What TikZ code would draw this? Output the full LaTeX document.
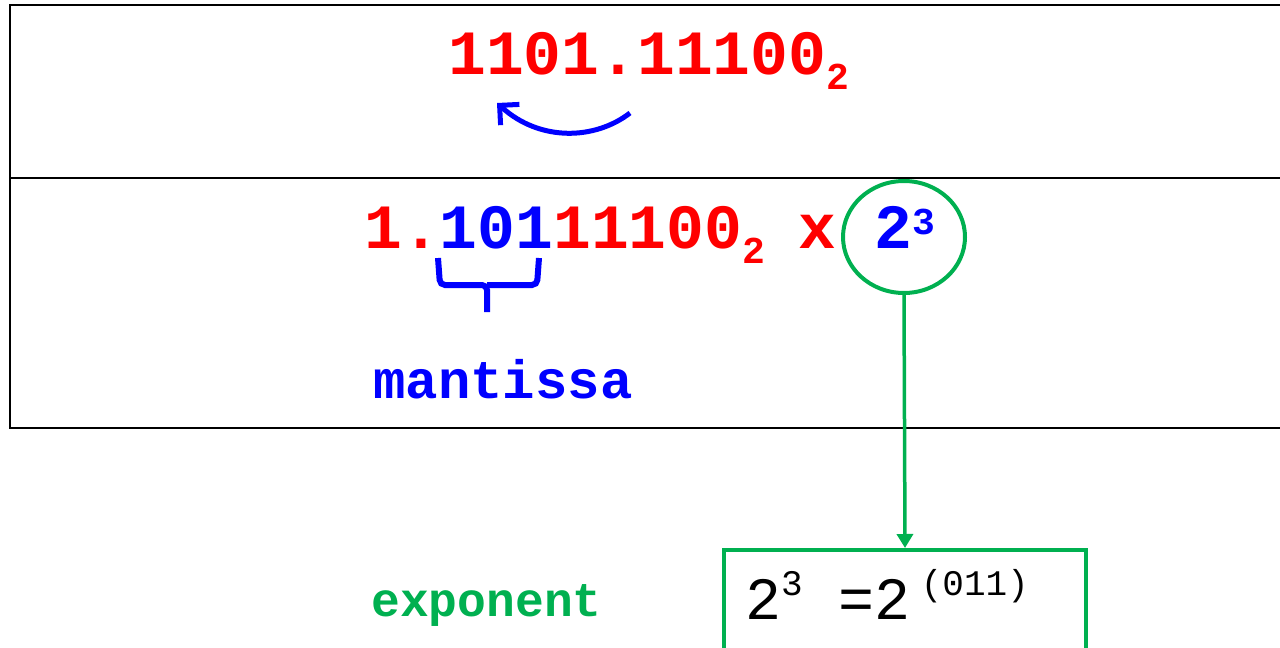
\documentclass[tikz,border=0pt]{standalone}
\usepackage{fontspec}
\newfontfamily\cour{Liberation Mono}
\usetikzlibrary{arrows.meta,shapes.geometric}
\definecolor{ogreen}{HTML}{00B050}
\definecolor{ored}{HTML}{FF0000}
\definecolor{oblue}{HTML}{0000FF}
\newcommand{\fs}[1]{\fontsize{#1}{#1}\selectfont}
\newcommand{\mysub}[1]{\raisebox{-15pt}{\fs{38}#1}}
\newcommand{\mysup}[1]{\raisebox{14pt}{\fs{38}#1}}
\newcommand{\eqsup}[1]{\raisebox{24pt}{\fs{36}#1}}
\begin{document}
\begin{tikzpicture}[x=1pt,y=-1pt,
  tbl/.style={line width=2.5pt,black},
  big/.style={inner sep=0pt,font=\cour\bfseries\fs{63}},
  lbl/.style={inner sep=0pt,font=\cour\bfseries},
  grn/.style={draw=ogreen,line width=4pt}]
\useasboundingbox (0,0) rectangle (1280,648);
% table
\draw[tbl] (1290,5) -- (10,5) -- (10,428) -- (1290,428);
\draw[tbl] (10,178) -- (1290,178);
% line 1
\node[big,anchor=base west,text=ored] (l1) at (448,74) {1101.11100\mysub{2}};
\coordinate (as) at (630,113);
\coordinate (ae) at (497,103);
\draw[oblue,line width=5pt,-{Straight Barb[length=14pt,width=28pt,line width=5pt]}] (as) .. controls (595,140) and (540,142) .. (ae);
% line 2
\node[big,anchor=base west] (l2) at (364,248) {\textcolor{ored}{1.}\textcolor{oblue}{101}\textcolor{ored}{11100\mysub{2}}};
\node[big,anchor=base west,text=ored] (x) at (798,248) {x};
\node[big,anchor=base,text=oblue] (pw) at (905,248) {2\mysup{3}};
\node[grn,ellipse,minimum width=122pt,minimum height=112pt,inner sep=0pt] (circ) at (904,237) {};
% brace
\draw[oblue,line width=6pt,rounded corners=5pt] (438,258) -- (440,285) -- (487,285) -- (487,312);
\draw[oblue,line width=6pt,rounded corners=5pt] (539,258) -- (537,285) -- (487,285);
\node[lbl,anchor=base west,text=oblue,font=\cour\bfseries\fs{54}] (man) at (373,398) {mantissa};
\node[lbl,anchor=base west,text=ogreen,font=\cour\bfseries\fs{48}] (exp) at (371,616) {exponent};
% box
\node[grn,rectangle,minimum width=362pt,minimum height=112pt,inner sep=0pt] (box) at (905,606) {};
\node[inner sep=0pt,anchor=base west,font=\cour\fs{60}] (eq) at (745,619) {2\eqsup{3} =2\,\eqsup{(011)}};
\draw[ogreen,line width=3.5pt,-{Triangle[length=14pt,width=16pt]}] (circ.south) -- (box.north);
\end{tikzpicture}
\end{document}
